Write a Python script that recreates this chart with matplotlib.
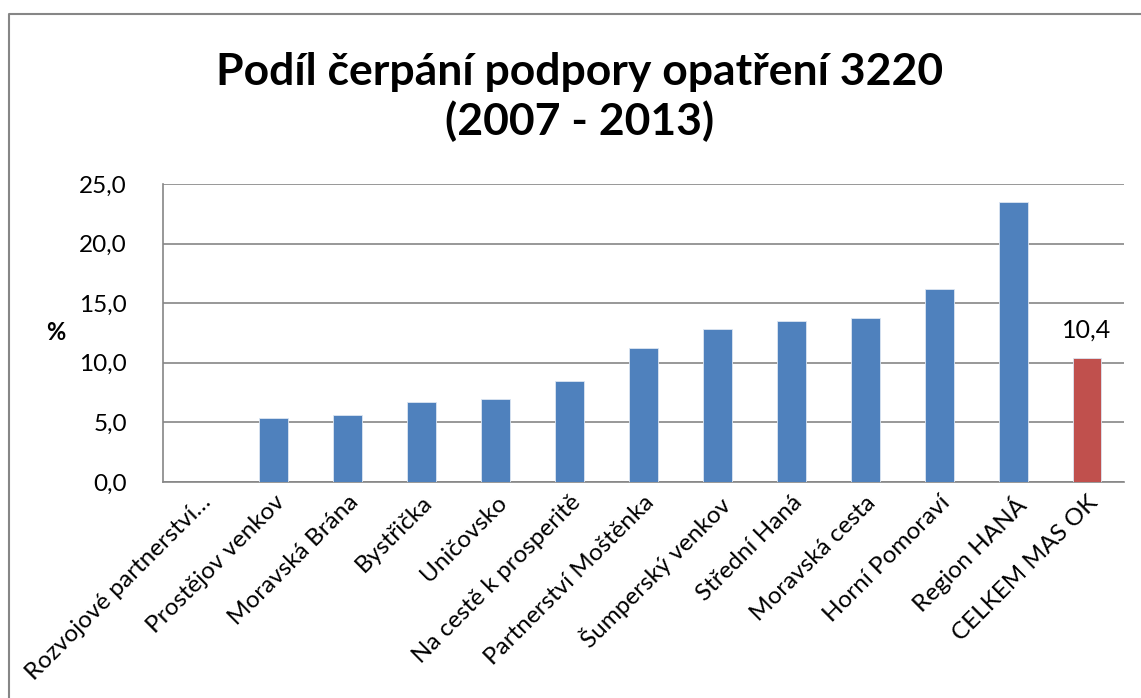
import matplotlib.pyplot as plt
from matplotlib.lines import Line2D
from matplotlib.ticker import FuncFormatter

plt.rcParams['font.family'] = ['Lato', 'DejaVu Sans']

# data
categories = ['Rozvojové partnerství…', 'Prostějov venkov', 'Moravská Brána', 'Bystřička',
              'Uničovsko', 'Na cestě k prosperitě', 'Partnerství Moštěnka', 'Šumperský venkov',
              'Střední Haná', 'Moravská cesta', 'Horní Pomoraví', 'Region HANÁ', 'CELKEM MAS OK']
values = [0.0, 5.4, 5.6, 6.7, 7.0, 8.5, 11.2, 12.8, 13.5, 13.8, 16.2, 23.5, 10.4]
highlight = 'CELKEM MAS OK'

blue = '#4F81BD'
red = '#C0504D'
grey = '#868686'

W, H = 1141, 698
fig = plt.figure(figsize=(W / 100, H / 100), dpi=100)
ax = fig.add_axes([163 / W, 1 - 482 / H, (1124 - 163) / W, (482 - 184) / H])

colors = [red if c == highlight else blue for c in categories]
x = range(len(categories))
bars = ax.bar(x, values, width=0.39, color=colors, edgecolor='#DCE6F2', linewidth=0.6, zorder=3)

ax.set_xlim(-0.5, len(categories) - 0.5)
ax.set_ylim(0, 25)
ax.set_yticks([0, 5, 10, 15, 20, 25])
ax.yaxis.set_major_formatter(FuncFormatter(lambda v, p: f'{v:.1f}'.replace('.', ',')))
ax.grid(axis='y', color=grey, linewidth=1.2, zorder=0)
ax.tick_params(axis='y', length=0, pad=26, labelsize=17.5)
ax.tick_params(axis='x', length=0, pad=7, labelsize=17.5)
ax.set_xticks(list(x))
ax.set_xticklabels(categories, rotation=45, ha='right', rotation_mode='anchor')

for side in ['top', 'right']:
    ax.spines[side].set_visible(False)
for side in ['left', 'bottom']:
    ax.spines[side].set_color(grey)
    ax.spines[side].set_linewidth(1.2)

ax.set_ylabel('%', rotation=0, fontsize=17, fontweight='bold', va='center', ha='center')
ax.yaxis.set_label_coords((56 - 163) / 961, (482 - 333) / 298)

# data label on the total bar only
labels = [f'{v:.1f}'.replace('.', ',') if c == highlight else '' for c, v in zip(categories, values)]
ax.bar_label(bars, labels=labels, padding=12, fontsize=18)

# title
fig.text(580 / W, 1 - 97 / H, 'Podíl čerpání podpory opatření 3220\n(2007 - 2013)',
         ha='center', va='center', fontsize=32, fontweight='bold', linespacing=1.25)

# chart border (runs off the right and bottom of the picture)
fig.add_artist(Line2D([8.5 / W, 8.5 / W, 1.2], [-0.2, 1 - 13.5 / H, 1 - 13.5 / H],
                      color=grey, linewidth=1.5, transform=fig.transFigure))

fig.savefig('out.png', dpi=100)
